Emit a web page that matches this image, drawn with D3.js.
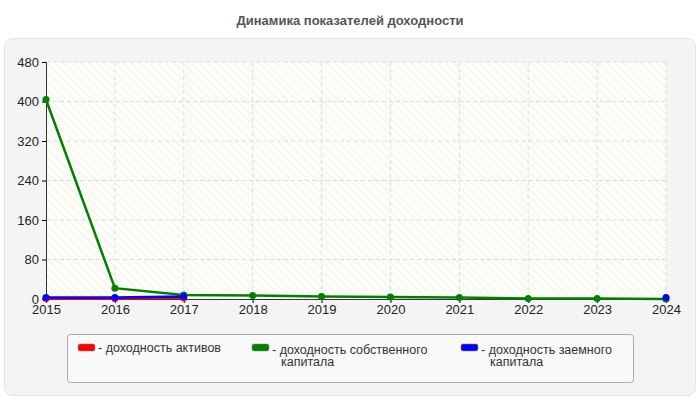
<!DOCTYPE html><html><head><meta charset="utf-8"><script src="https://cdn.jsdelivr.net/npm/d3@7"></script>
<style>body{margin:0;background:#fff}text{font-family:Arial,"Liberation Sans",sans-serif}</style></head><body><svg id="c" width="700" height="400"></svg><script>
const years=[2015,2016,2017,2018,2019,2020,2021,2022,2023,2024];
const assets=[1,1,2,null,null,null,null,null,null,null];
const equity=[404,22,8,7,5,4,3,1,1,0];
const debt=[3,3,5,null,null,null,null,null,null,3];
const yTicks=[0,80,160,240,320,400,480];
const seriesNames=["- доходность активов","- доходность собственного|капитала","- доходность заемного|капитала"];
const colors=["#ff0000","#008000","#0000ff"];
const svg=d3.select("#c");
svg.append("text").attr("x",350).attr("y",25).attr("text-anchor","middle").attr("font-size",13).attr("font-weight","bold").attr("fill","#555").text("Динамика показателей доходности");
svg.append("rect").attr("x",4.5).attr("y",38.5).attr("width",691).attr("height",357).attr("rx",8).attr("fill","#f4f4f4").attr("stroke","#e4e4e4");
const defs=svg.append("defs");
const p=defs.append("pattern").attr("id","h").attr("width",6).attr("height",6).attr("patternUnits","userSpaceOnUse").attr("patternTransform","rotate(-45)");
p.append("rect").attr("width",6).attr("height",6).attr("fill","#fdfdf8");
p.append("line").attr("x1",0).attr("y1",0).attr("x2",0).attr("y2",6).attr("stroke","#f0f0ea").attr("stroke-width",1.5);
const x=d3.scaleLinear().domain([2015,2024]).range([46,666]);
const y=d3.scaleLinear().domain([0,480]).range([299,62]);
svg.append("rect").attr("x",46).attr("y",62).attr("width",620).attr("height",237).attr("fill","url(#h)");
const g=svg.append("g");
years.slice(1).forEach(v=>g.append("line").attr("x1",x(v)).attr("x2",x(v)).attr("y1",62).attr("y2",299).attr("stroke","#ddd").attr("stroke-dasharray","4,3"));
yTicks.slice(1).forEach(v=>g.append("line").attr("x1",46).attr("x2",666).attr("y1",y(v)).attr("y2",y(v)).attr("stroke","#ddd").attr("stroke-dasharray","4,3"));
svg.append("g").attr("transform","translate(0,299)").call(d3.axisBottom(x).tickValues(years).tickFormat(d3.format("d")).tickSize(4).tickPadding(2)).call(a=>{a.selectAll("text").attr("font-size",13).attr("fill","#222");a.select(".domain").attr("stroke","#333");});
svg.append("g").attr("transform","translate(46,0)").call(d3.axisLeft(y).tickValues(yTicks).tickSize(4)).call(a=>{a.selectAll("text").attr("font-size",13).attr("fill","#222");a.select(".domain").attr("stroke","#333");});
const line=d3.line().defined(d=>d[1]!=null).x(d=>x(d[0])).y(d=>y(d[1]));
[assets,equity,debt].forEach((s,i)=>{
 const pts=years.map((yr,j)=>[yr,s[j]]);
 svg.append("path").attr("d",line(pts)).attr("fill","none").attr("stroke",colors[i]).attr("stroke-width",2.5);
 svg.selectAll(null).data(pts.filter(d=>d[1]!=null)).enter().append("circle").attr("cx",d=>x(d[0])).attr("cy",d=>y(d[1])).attr("r",3.5).attr("fill",colors[i]);
});
svg.append("rect").attr("x",67.5).attr("y",334.5).attr("width",566).attr("height",48).attr("rx",3).attr("fill","#f9f9f9").attr("stroke","#aaa");
const lx=[78,252,461];
seriesNames.forEach((n,i)=>{
 svg.append("rect").attr("x",lx[i]).attr("y",344).attr("width",17).attr("height",7).attr("rx",2).attr("fill",colors[i]).attr("stroke","#888").attr("stroke-width",0.5);
 const t=svg.append("text").attr("x",lx[i]+20).attr("y",352).attr("font-size",12.5).attr("fill","#333");
 n.split("|").forEach((s,k)=>t.append("tspan").attr("x",lx[i]+(k?29:20)).attr("dy",k?12:(i?2:0)).text(s));
});
</script></body></html>
